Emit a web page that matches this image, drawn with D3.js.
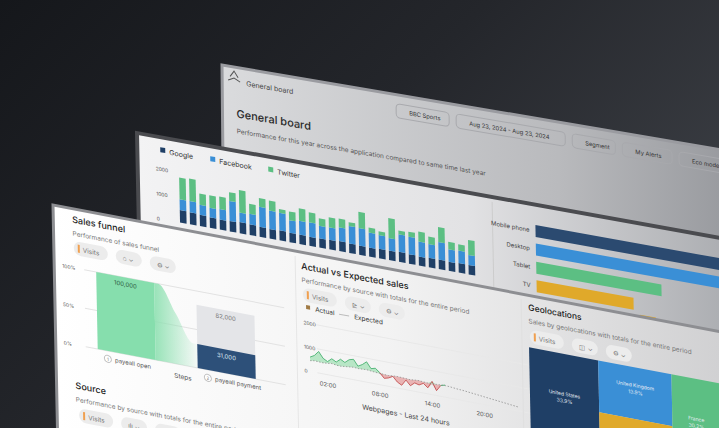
<!DOCTYPE html>
<html><head><meta charset="utf-8">
<script src="https://cdn.jsdelivr.net/npm/d3@7"></script>
<style>body{margin:0;background:#222}svg{display:block}text{font-family:Inter,"Noto Sans",sans-serif}</style>
</head><body><svg id="c" width="719" height="428"></svg>
<script>
// ---- data ----
const headerControls = ["BBC Sports","Aug 23, 2024 - Aug 23, 2024","Segment","My Alerts","Eco mode"];
const sourceNames = ["Google","Facebook","Twitter"];
const google   = [500,480,450,420,400,420,450,430,400,380,400,380,380,360,370,380,400,380,370,360,380,380,400,380,360,380,380,360,380,380];
const facebook = [430,450,400,380,420,800,380,420,800,740,700,500,550,580,500,500,550,700,700,600,550,500,700,700,600,550,700,500,500,400];
const twitter  = [870,900,450,500,500,350,900,400,350,400,150,350,500,400,300,400,350,150,650,200,150,800,150,200,400,300,600,300,250,600];
const stackTicks = [0,1000,2000];
const devices = ["Mobile phone","Desktop","Tablet","TV"];
const deviceValues = [100,92,62,48];
const funnelSteps = ["payeall open","payeall payment"];
const funnelTotal = [100000,82000];
const funnelConverted = [100000,31000];
const funnelTicks = ["0%","50%","100%"];
const hours = [0,0.5,1,1.5,2,2.5,3,3.5,4,4.5,5,5.5,6,6.5,7,7.5,8,8.5,9,9.5,10,10.5,11,11.5,12,12.5,13,13.5,14,14.5,15,15.5,16,16.5,17,17.5,18,18.5,19,19.5,20,20.5,21,21.5,22,22.5,23,23.5,24];
const actual = [600,700,900,650,550,700,600,750,650,800,850,600,700,850,600,650,500,300,350,450,250,150,400,200,350,300,400,250,550,200,450,500];
const expected = [450,480,470,460,480,500,470,460,480,500,520,500,510,520,500,480,470,460,450,470,480,470,460,450,470,480,460,450,440,460,470,480,470,450,430,420,400,380,360,340,320,300,280,260,240,220,200,180,160];
const hourTicks = ["02:00","08:00","14:00","20:00"];
const lineTicks = [0,1000,2000];
const geo = [{name:"United States",value:33.9},{name:"UKgroup",children:[{name:"United Kingdom",value:13.9},{name:"Other",value:22.0}]},{name:"France",value:30.2}];

const svg = d3.select("#c");
const defs = svg.append("defs");
function lg(id, stops, x2="1", y2="0"){const g=defs.append("linearGradient").attr("id",id).attr("x1",0).attr("y1",0).attr("x2",x2).attr("y2",y2);
  stops.forEach(s=>g.append("stop").attr("offset",s[0]).attr("stop-color",s[1]).attr("stop-opacity",s[2]??1));}
lg("bg",[[0,"#15171b"],[0.5,"#24262b"],[1,"#3d4046"]],"1","0.6");
lg("back",[[0,"#dadbdd"],[0.6,"#b9babd"],[1,"#8e9095"]]);
lg("mid",[[0,"#f3f3f4"],[0.55,"#e2e2e4"],[1,"#a9abaf"]]);
lg("front",[[0,"#ffffff"],[0.45,"#f3f3f3"],[1,"#c9c9cb"]]);
lg("funnelG",[[0,"#8ee0b1",0.9],[1,"#8ee0b1",0.05]]);
svg.append("rect").attr("width",719).attr("height",428).attr("fill","url(#bg)");

function panel(ox,oy,slope,shear){return svg.append("g").attr("transform",`matrix(1,${slope},${shear},1,${ox},${oy})`);}
function txt(g,x,y,s,size,fill,weight,anchor){return g.append("text").attr("x",x).attr("y",y).text(s).attr("font-size",size).attr("fill",fill).attr("font-weight",weight||400).attr("text-anchor",anchor||"start");}
function pills(g,x,y,labels){let cx=x;labels.forEach((l,i)=>{const w=i==0?34:26;
  g.append("rect").attr("x",cx).attr("y",y-7).attr("width",w).attr("height",14).attr("rx",7).attr("fill","#ececec");
  if(i==0){g.append("rect").attr("x",cx+4).attr("y",y-4).attr("width",2).attr("height",8).attr("fill","#f0a050");}
  txt(g,cx+(i==0?9:7),y+3,l,6.5,"#777");cx+=w+8;});}

// ---- back panel ----
const B = panel(222,65,0.17,0.01);
B.append("rect").attr("x",0).attr("y",0).attr("width",560).attr("height",200).attr("fill","url(#back)").attr("stroke","#9a9ba0").attr("stroke-width",3);
B.append("path").attr("d","M8,10 l4,-6 l4,6 M6,14 l6,-3 l6,3").attr("stroke","#555").attr("fill","none");
txt(B,24,17,"General board",7,"#444");
txt(B,14,50,"General board",11,"#2a2a2a",500);
B.append("text").attr("x",72).attr("y",49).text("✎").attr("font-size",7).attr("fill","#888");
txt(B,14,66,"Performance for this year across the application compared to same time last year",6.5,"#555");
let hx=174;headerControls.forEach(h=>{const w=h.length*3.3+20;
  B.append("rect").attr("x",hx).attr("y",9).attr("width",w).attr("height",14).attr("rx",4).attr("fill","none").attr("stroke","#a8a9ad");
  txt(B,hx+13,18.5,h,5.8,"#333");hx+=w+7;});

// ---- middle panel ----
const M = panel(137,133,0.18,0.02);
M.append("rect").attr("x",0).attr("y",0).attr("width",600).attr("height",140).attr("fill","url(#mid)").attr("stroke","#4a4b4f").attr("stroke-width",4);
const colors=["#1f3f66","#3a8fd6","#5cbf83"];
let lx=23;sourceNames.forEach((n,i)=>{M.append("rect").attr("x",lx).attr("y",10).attr("width",5).attr("height",5).attr("fill",colors[i]);txt(M,lx+9,16,n,7,"#333");lx+=n.length*4+26;});
const sy=d3.scaleLinear().domain([0,2000]).range([82,32]);
const sx=d3.scaleBand().domain(d3.range(google.length)).range([38,340]).padding(0.34);
stackTicks.forEach(t=>{txt(M,18,sy(t)+2,t,5,"#555");});
const stackData=d3.stack().keys([0,1,2]).value((d,k)=>d[k])(google.map((g,i)=>[g,facebook[i],twitter[i]]));
stackData.forEach((layer,k)=>{M.append("g").selectAll("rect").data(layer).join("rect")
  .attr("x",(d,i)=>sx(i)).attr("width",sx.bandwidth()).attr("y",d=>sy(d[1])).attr("height",d=>sy(d[0])-sy(d[1])).attr("fill",colors[k]);});
M.append("line").attr("x1",355).attr("x2",355).attr("y1",5).attr("y2",135).attr("stroke","#ccc");
const dy=d3.scaleBand().domain(devices).range([14,94]).padding(0.35);
const dx=d3.scaleLinear().domain([0,100]).range([398,600]);
const dcol=["#2b4a70","#3a8fd6","#5cbf83","#e0a92a"];
devices.forEach((d,i)=>{txt(M,392,dy(d)+dy.bandwidth()/2+2,d,6,"#444",400,"end");
  M.append("rect").attr("x",dx(0)).attr("y",dy(d)).attr("width",dx(deviceValues[i])-dx(0)).attr("height",dy.bandwidth()).attr("fill",dcol[i]);});
M.append("rect").attr("x",dx(deviceValues[3])+6).attr("y",dy("TV")+dy.bandwidth()+4).attr("width",16).attr("height",8).attr("fill","#e0a92a");

// ---- front panel ----
const F = panel(53,205,0.19,0.02);
F.append("rect").attr("x",0).attr("y",0).attr("width",740).attr("height",280).attr("fill","url(#front)").attr("stroke","#8d8e92").attr("stroke-width",3);
txt(F,19,14,"Sales funnel",9,"#222",500);
txt(F,19,27,"Performance of sales funnel",6.5,"#777");
pills(F,20,39,["Visits","⌂ ⌄","⚙ ⌄"]);
const fy=d3.scaleLinear().domain([0,100000]).range([136,59]);
const fx=d3.scaleBand().domain(funnelSteps).range([42,200]).paddingInner(0.42);
funnelTicks.forEach((t,i)=>{const y=fy(i*50000);txt(F,8,y+2,t,5,"#555");F.append("line").attr("x1",30).attr("x2",230).attr("y1",y).attr("y2",y).attr("stroke","#e2e2e2");});
const s0=funnelSteps[0],s1=funnelSteps[1];
F.append("rect").attr("x",fx(s1)).attr("width",fx.bandwidth()).attr("y",fy(funnelTotal[1])).attr("height",fy(0)-fy(funnelTotal[1])).attr("fill","#e4e5e8");
F.append("path").attr("fill","url(#funnelG)").attr("d",d3.area().curve(d3.curveMonotoneX).x(d=>d[0]).y0(fy(0)).y1(d=>d[1])(
  [[fx(s0)+fx.bandwidth(),fy(funnelConverted[0])],[fx(s0)+fx.bandwidth()+4,fy(funnelConverted[0])],[(fx(s0)+fx.bandwidth()+fx(s1))/2,fy((funnelConverted[0]+funnelConverted[1])/2)],[fx(s1)-4,fy(funnelConverted[1])],[fx(s1),fy(funnelConverted[1])]]));
F.append("rect").attr("x",fx(s0)).attr("width",fx.bandwidth()).attr("y",fy(funnelConverted[0])).attr("height",fy(0)-fy(funnelConverted[0])).attr("fill","#86dead");
F.append("rect").attr("x",fx(s1)).attr("width",fx.bandwidth()).attr("y",fy(funnelConverted[1])).attr("height",fy(0)-fy(funnelConverted[1])).attr("fill","#2d5079");
txt(F,fx(s0)+fx.bandwidth()/2,fy(funnelConverted[0])+9,"100,000",6,"#2b5a3e",400,"middle");
txt(F,fx(s1)+fx.bandwidth()/2,fy(funnelTotal[1])+9,"82,000",6,"#777",400,"middle");
txt(F,fx(s1)+fx.bandwidth()/2,fy(funnelConverted[1])+9,"31,000",6,"#dfe8f3",400,"middle");
funnelSteps.forEach((s,i)=>{const x=fx(s)+10;F.append("circle").attr("cx",x).attr("cy",fy(0)+8).attr("r",3.5).attr("fill","#fff").attr("stroke","#999").attr("stroke-width",0.6);
  txt(F,x,fy(0)+10,i+1,4.5,"#777",400,"middle");txt(F,x+7,fy(0)+10,s,6,"#555");});
txt(F,127,150,"Steps",6.5,"#555",400,"middle");
F.append("line").attr("x1",242).attr("x2",242).attr("y1",5).attr("y2",280).attr("stroke","#e6e6e6");
txt(F,19,180,"Source",9,"#222",500);
txt(F,19,193,"Performance by source with totals for the entire period",6.5,"#777");
pills(F,22,206,["Visits","ılı ⌄","⚙ ⌄"]);
txt(F,248,17,"Actual vs Expected sales",9,"#222",500);
txt(F,248,30,"Performance by source with totals for the entire period",6.5,"#777");
pills(F,249,42,["Visits","⊵ ⌄","⚙ ⌄"]);
F.append("rect").attr("x",252).attr("y",52).attr("width",4).attr("height",4).attr("fill","#a07a45");
txt(F,261,57,"Actual",6.5,"#333");
F.append("line").attr("x1",285).attr("x2",295).attr("y1",55).attr("y2",55).attr("stroke","#bbb");
txt(F,300,57,"Expected",6.5,"#333");
const lxs=d3.scaleLinear().domain([0,24]).range([255,464]);
const lys=d3.scaleLinear().domain([0,2000]).range([118,70]);
lineTicks.forEach(t=>{txt(F,249,lys(t)+2,t,5,"#555");F.append("line").attr("x1",262).attr("x2",475).attr("y1",lys(t)).attr("y2",lys(t)).attr("stroke","#e8e8e8");});
hourTicks.forEach(h=>txt(F,lxs(+h.slice(0,2)),130,h,6,"#555",400,"middle"));
txt(F,350,146,"Webpages - Last 24 hours",7,"#444",400,"middle");
const act=actual.map((v,i)=>[hours[i],v,expected[i]]);
const above=d3.area().x(d=>lxs(d[0])).y0(d=>lys(d[2])).y1(d=>lys(Math.max(d[1],d[2])));
const below=d3.area().x(d=>lxs(d[0])).y0(d=>lys(d[2])).y1(d=>lys(Math.min(d[1],d[2])));
F.append("path").attr("d",above(act)).attr("fill","#9ee0b2").attr("opacity",0.7);
F.append("path").attr("d",below(act)).attr("fill","#e59a9a").attr("opacity",0.7);
act.forEach((d,i)=>{if(i==0)return;const p=act[i-1];F.append("line").attr("x1",lxs(p[0])).attr("y1",lys(p[1])).attr("x2",lxs(d[0])).attr("y2",lys(d[1])).attr("stroke",(d[1]+p[1])/2>=(d[2]+p[2])/2?"#3fae6a":"#c24a4a").attr("stroke-width",0.8);});
F.append("path").attr("d",d3.line().x((d,i)=>lxs(hours[i])).y(d=>lys(d))(expected)).attr("fill","none").attr("stroke","#888").attr("stroke-width",0.7).attr("stroke-dasharray","1.5,1.5");
F.append("line").attr("x1",468).attr("x2",468).attr("y1",5).attr("y2",280).attr("stroke","#e0e0e0");
txt(F,475,15,"Geolocations",8.5,"#222",500);
txt(F,475,28,"Sales by geolocations with totals for the entire period",6.5,"#777");
pills(F,476,41,["Visits","◫ ⌄","⚙ ⌄"]);
const root=d3.hierarchy({children:geo}).sum(d=>d.value||0);
d3.treemap().tile(d3.treemapSliceDice).size([204,134])(root);
const gcol={"United States":"#1f3f66","United Kingdom":"#3a8fd6","Other":"#e0a92a","France":"#5cbf83"};
const tg=F.append("g").attr("transform","translate(475,52)");
root.leaves().forEach(l=>{tg.append("rect").attr("x",l.x0).attr("y",l.y0).attr("width",l.x1-l.x0).attr("height",l.y1-l.y0).attr("fill",gcol[l.data.name]);
  if(l.data.name!="Other"){const cx=l.data.name=="France"?l.x0+24:(l.x0+l.x1)/2,cy=l.data.name=="United Kingdom"?(l.y0+l.y1)/2-6:l.y0+42;
   tg.append("text").attr("x",cx).attr("y",cy).attr("text-anchor","middle").attr("font-size",5).attr("fill","#e8eef5").attr("font-family","DejaVu Sans Mono").text(l.data.name);
   tg.append("text").attr("x",cx).attr("y",cy+7).attr("text-anchor","middle").attr("font-size",5).attr("fill","#e8eef5").attr("font-family","DejaVu Sans Mono").text(l.data.value.toFixed(1)+"%");}});
</script></body></html>
